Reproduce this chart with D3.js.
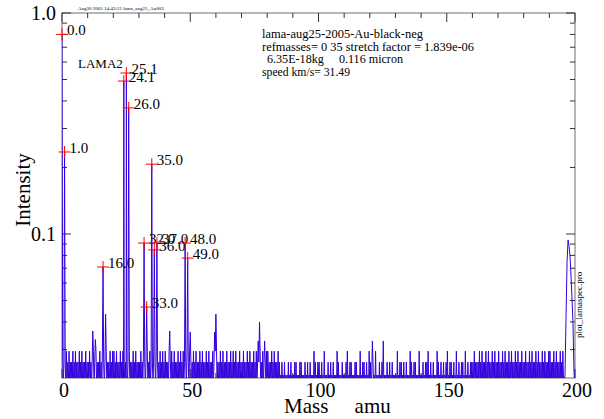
<!DOCTYPE html>
<meta charset="utf-8">
<style>
  body { margin: 0; background: #fff; }
  svg { display: block; font-family: "Liberation Serif", "DejaVu Serif", serif; }
  .frame { stroke: #6e6e6e; fill: none; }
  .tick { stroke: #333; }
</style>
<body>
<svg id="chart" width="604" height="419"></svg>
<script src="https://d3js.org/d3.v7.min.js"></script>
<script>
// labelled peaks (mass in amu, intensity)
var peakMasses = [0.0, 1.0, 16.0, 24.1, 25.1, 26.0, 32.0, 33.0, 35.0, 36.0, 37.0, 48.0, 49.0];
var peakValues = [0.80, 0.235, 0.0709, 0.492, 0.535, 0.372, 0.091, 0.0467, 0.207, 0.0847, 0.091, 0.091, 0.0778];

// smaller unlabelled spikes above the noise
var spikeMasses = [12.0, 13.0, 17.0, 42.0, 50.0, 59.5, 60.0, 76.5, 77.0, 79.0, 121.0];
var spikeValues = [0.0364, 0.0333, 0.0434, 0.0364, 0.036, 0.036, 0.0434, 0.0328, 0.040, 0.0328, 0.0328];

// the digitiser steps seen in the noise band
var levelValues = [0.0198, 0.0230, 0.0263, 0.0295, 0.0328, 0.0360, 0.0393, 0.0425];
var noiseFloor = 0.0198;   // every bin dips to here (below the axis)

// noise maximum, one digit per 0.5 amu bin from 0 to 195 (index into levelValues)
var noiseStep = 0.5;
var noiseMax = [
  "32232322323223232232", // 0-10
  "23223232232322322323", // 10-20
  "32322323223232232322", // 20-30
  "23232232322323223232", // 30-40
  "32232323223232322323", // 40-50
  "22323223232232322323", // 50-60
  "32232322322323232232", // 60-70
  "23223232232322323223", // 70-80
  "32232322321212112121", // 80-90
  "12211221121212113212", // 90-100
  "21213112121211321121", // 100-110
  "12312211221131221213", // 110-120
  "21213112124112121211", // 120-130
  "13122121211321221131", // 130-140
  "12122312121132121212", // 140-150
  "31221213121221312122", // 150-160
  "23222323223232232322", // 160-170
  "32232322323223232232", // 170-180
  "23223232232322323223", // 180-190
  "32232322323"           // 190-195
];

// broad feature at the top end of the mass range
var tailMasses = [195.6, 196.1, 196.5, 196.9, 197.3, 197.7, 198.1, 198.4, 198.8, 199.2, 199.6, 200];
var tailValues = [0.0198, 0.0230, 0.042, 0.075, 0.094, 0.088, 0.078, 0.066, 0.052, 0.040, 0.024, 0.0198];

var infoLines = [
  "lama-aug25-2005-Au-black-neg",
  "refmasses= 0 35 stretch factor = 1.839e-06",
  "6.35E-18kg     0.116 micron",
  "speed km/s= 31.49"
];

var pL = 62, pR = 575, pT = 13, pB = 378;

var svg = d3.select("#chart");

var x = d3.scaleLinear().domain([0, 200]).range([pL, pR]);
var y = d3.scaleLog().domain([0.0223, 1]).range([pB, pT]);

// build the spectrum: each noise bin runs floor -> max, peaks override / insert
var spec = new Map();
noiseMax.join("").split("").forEach(function (c, i) {
  var m = i * noiseStep;
  spec.set(+m.toFixed(2), noiseFloor);
  spec.set(+(m + noiseStep / 2).toFixed(2), levelValues[+c]);
});
spikeMasses.forEach(function (m, i) { spec.set(m, spikeValues[i]); });
peakMasses.forEach(function (m, i) { spec.set(m, peakValues[i]); });
tailMasses.forEach(function (m, i) { spec.set(m, tailValues[i]); });
var series = Array.from(spec, function (d) { return { m: d[0], v: d[1] }; })
  .sort(function (a, b) { return a.m - b.m; });

// frame + ticks
svg.append("rect").attr("class", "frame")
  .attr("x", pL).attr("y", pT).attr("width", pR - pL).attr("height", pB - pT);

var yMajor = [0.1, 1.0];
var yMinor = [0.03, 0.04, 0.05, 0.06, 0.07, 0.08, 0.09, 0.2, 0.3, 0.4, 0.5, 0.6, 0.7, 0.8, 0.9];
var xMajor = d3.range(0, 201, 50);
var xMinor = d3.range(10, 200, 10).filter(function (v) { return v % 50 != 0; });

function yTicks(vals, len) {
  svg.selectAll(null).data(vals).enter().append("line").attr("class", "tick")
    .attr("x1", pL).attr("x2", pL + len)
    .attr("y1", function (d) { return y(d); }).attr("y2", function (d) { return y(d); });
  svg.selectAll(null).data(vals).enter().append("line").attr("class", "tick")
    .attr("x1", pR).attr("x2", pR - len)
    .attr("y1", function (d) { return y(d); }).attr("y2", function (d) { return y(d); });
}
function xTicks(vals, len) {
  svg.selectAll(null).data(vals).enter().append("line").attr("class", "tick")
    .attr("x1", function (d) { return x(d); }).attr("x2", function (d) { return x(d); })
    .attr("y1", pT).attr("y2", pT + len);
  svg.selectAll(null).data(vals).enter().append("line").attr("class", "tick")
    .attr("x1", function (d) { return x(d); }).attr("x2", function (d) { return x(d); })
    .attr("y1", pB).attr("y2", pB - len);
}
yTicks(yMajor, 9); yTicks(yMinor, 5);
xTicks(xMajor, 9); xTicks(xMinor, 5);

svg.selectAll(null).data(yMajor).enter().append("text")
  .attr("x", pL - 6).attr("y", function (d) { return y(d) + 7; })
  .attr("text-anchor", "end").attr("font-size", 20)
  .text(function (d) { return d3.format(".1f")(d); });

svg.selectAll(null).data(xMajor).enter().append("text")
  .attr("x", function (d) { return x(d) + 2; }).attr("y", pB + 19)
  .attr("text-anchor", "middle").attr("font-size", 20)
  .text(function (d) { return d; });

// axis titles
svg.append("text").attr("transform", "translate(30," + 190 + ")rotate(-90)")
  .attr("text-anchor", "middle").attr("font-size", 21).text("Intensity");
svg.append("text").attr("x", 284).attr("y", 413).attr("font-size", 21)
  .style("white-space", "pre").text("Mass     amu");

// spectrum
svg.append("clipPath").attr("id", "clip").append("rect")
  .attr("x", pL).attr("y", pT).attr("width", pR - pL).attr("height", pB - pT);

var line = d3.line().x(function (d) { return x(d.m); }).y(function (d) { return y(d.v); });
svg.append("path").datum(series)
  .attr("clip-path", "url(#clip)")
  .attr("fill", "none").attr("stroke", "#3300dd").attr("stroke-width", 1)
  .attr("d", line);

// peak markers
var peaks = peakMasses.map(function (m, i) { return { m: m, v: peakValues[i] }; });
var pk = svg.selectAll(".pk").data(peaks).enter().append("g").attr("class", "pk")
  .attr("transform", function (d) { return "translate(" + x(d.m) + "," + y(d.v) + ")"; });
pk.append("path").attr("d", "M-6,0H6M0,-6V6").attr("stroke", "#ff0000").attr("stroke-width", 1);
pk.append("text").attr("x", 5).attr("y", 1).attr("font-size", 15)
  .text(function (d) { return d3.format(".1f")(d.m); });

// annotations
svg.append("text").attr("x", 78).attr("y", 68).attr("font-size", 13).text("LAMA2");
var infoX = [262, 262, 267, 262], infoW = [161, 212, 136, 88];
svg.selectAll(".info").data(infoLines).enter().append("text").attr("class", "info")
  .attr("x", function (d, i) { return infoX[i]; })
  .attr("y", function (d, i) { return 38 + i * 12.7; })
  .attr("textLength", function (d, i) { return infoW[i]; })
  .attr("lengthAdjust", "spacingAndGlyphs")
  .attr("font-size", 13).style("white-space", "pre")
  .text(function (d) { return d; });
svg.append("text").attr("x", 78).attr("y", 10).attr("font-size", 5)
  .text("Aug30 2005 14:43:21 lama_aug25_Au003");
svg.append("text").attr("transform", "translate(582,338)rotate(-90)")
  .attr("font-size", 9).text("plot_lamaspec.pro");
</script>
</body>
